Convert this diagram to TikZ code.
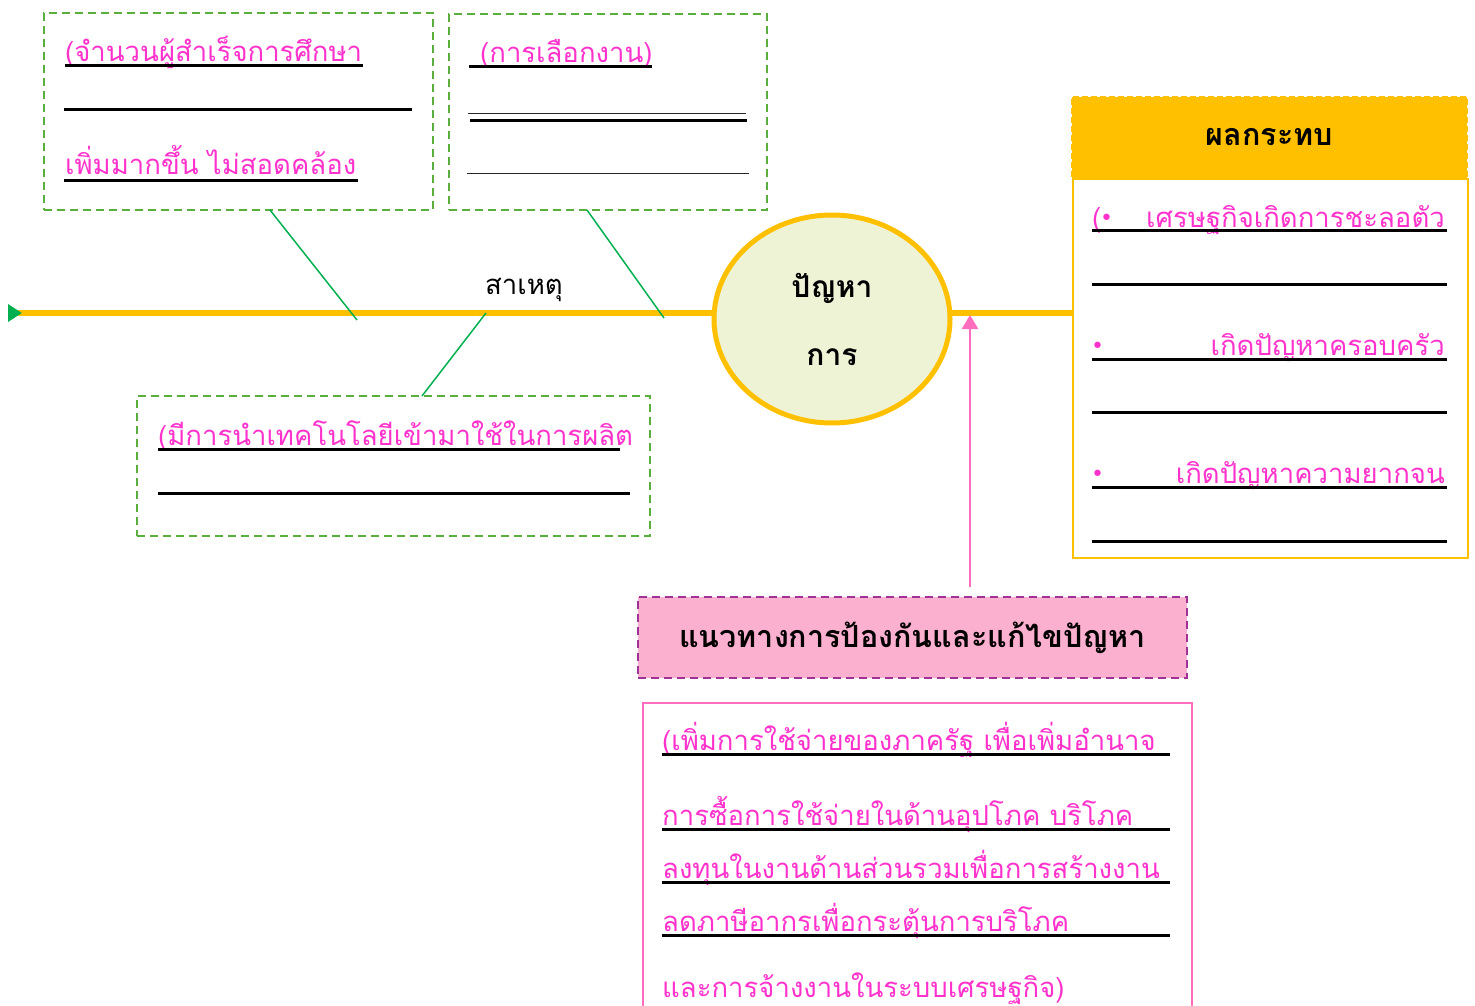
\documentclass[tikz,border=0pt]{standalone}
\usepackage{fontspec}
\newfontfamily\thai[Script=Thai]{Loma}
\newfontfamily\sym{DejaVu Sans}
\usetikzlibrary{arrows.meta,shapes.geometric}
\definecolor{spineorange}{RGB}{255,192,0}
\definecolor{bonegreen}{RGB}{0,176,80}
\definecolor{boxgreen}{RGB}{90,174,60}
\definecolor{txtpink}{RGB}{255,51,204}
\definecolor{headpink}{RGB}{252,176,208}
\definecolor{dashpurple}{RGB}{160,50,150}
\definecolor{arrowpink}{RGB}{255,110,190}
\definecolor{headfill}{RGB}{239,243,214}
\tikzset{
  causebox/.style={draw=boxgreen, line width=2pt, dash pattern=on 8pt off 5pt, minimum width=#1},
  pinktxt/.style={text=txtpink, font=\thai\fontsize{27.5}{32}\selectfont, anchor=base west, inner sep=0pt},
  blacktxt/.style={font=\thai\bfseries\fontsize{30.5}{34}\selectfont, inner sep=0pt},
  bullet/.style={text=txtpink, font=\sym\fontsize{22}{24}\selectfont, anchor=base west, inner sep=0pt},
  uline/.style={line width=3pt, black},
  thinline/.style={line width=1pt, black!85},
  bone/.style={bonegreen, line width=1.5pt},
}
\begin{document}
\begin{tikzpicture}[x=1pt,y=-1pt]
  \useasboundingbox (0,0) rectangle (1475,1006);
  \clip (0,0) rectangle (1475,1006);

  % causes
  \node (cause1) [causebox=389pt, minimum height=197pt] at (238.5,111.5) {};
  \node (cause2) [causebox=318pt, minimum height=196pt] at (608,112) {};
  \node (cause3) [causebox=513pt, minimum height=140pt] at (393.5,466) {};

  \node (c1a) [pinktxt] at (65,62) {(จำนวนผู้สำเร็จการศึกษา};
  \node (c1b) [pinktxt] at (65,175) {เพิ่มมากขึ้น ไม่สอดคล้อง};
  \draw[uline] (65,66) -- (363,66);
  \draw[uline] (64,110) -- (412,110);
  \draw[uline] (64,180) -- (358,180);

  \node (c2a) [pinktxt] at (480,63) {(การเลือกงาน)};
  \draw[uline] (469,67) -- (652,67);
  \draw[thinline] (468,114) -- (746,114);
  \draw[uline] (470,121) -- (747,121);
  \draw[thinline] (467,173) -- (749,173);

  \node (c3a) [pinktxt] at (158,445) {(มีการนำเทคโนโลยีเข้ามาใช้ในการผลิต};
  \draw[uline] (158,449) -- (620,449);
  \draw[uline] (158,493) -- (630,493);

  % impact box
  \node (effecthead) [draw=spineorange, fill=spineorange, line width=2pt, dash pattern=on 6pt off 3pt,
    minimum width=395pt, minimum height=81pt] at (1269.5,137.5) {};
  \node [blacktxt] at (effecthead) {ผลกระทบ};
  \node (effectbody) [draw=spineorange, line width=2pt, minimum width=395pt, minimum height=379pt,
    anchor=north west] at (1072,178) {};

  \node [pinktxt] at (1092,227) {(};
  \node [bullet] at (1100,225) {•};
  \node (e1) [pinktxt, anchor=base east] at (1445,227) {เศรษฐกิจเกิดการชะลอตัว};
  \node [bullet] at (1091,353) {•};
  \node (e2) [pinktxt, anchor=base east] at (1445,355) {เกิดปัญหาครอบครัว};
  \node [bullet] at (1091,481) {•};
  \node (e3) [pinktxt, anchor=base east] at (1445,483) {เกิดปัญหาความยากจน};
  \draw[uline] (1092,230) -- (1447,230);
  \draw[uline] (1092,284) -- (1447,284);
  \draw[uline] (1092,359) -- (1447,359);
  \draw[uline] (1092,412) -- (1447,412);
  \draw[uline] (1092,487) -- (1447,487);
  \draw[uline] (1092,541) -- (1447,541);

  % spine and bones
  \coordinate (tail) at (8,313);
  \draw[spineorange, line width=6pt, {Triangle[reversed, length=14pt, width=17pt, color=bonegreen]}-]
    (tail) -- (tail -| effectbody.west);
  \node (problem) [ellipse, draw=spineorange, fill=headfill, line width=5pt,
    minimum width=236pt, minimum height=208pt, align=center, font=\thai\bfseries\fontsize{30}{34}\selectfont]
    at (832,319) {ปัญหา\\[34pt]การ};

  \coordinate (b1top) at (270,210);
  \coordinate (b1end) at (357,320);
  \coordinate (b2top) at (587,210);
  \coordinate (b2end) at (664,318);
  \coordinate (b3top) at (486,313);
  \coordinate (b3end) at (422,396);
  \draw[bone] (b1top) -- (b1end);
  \draw[bone] (b2top) -- (b2end);
  \draw[bone] (b3top) -- (b3end);
  \node (causelabel) [font=\thai\fontsize{27.5}{32}\selectfont, inner sep=0pt] at (524,290) {สาเหตุ};

  % solutions
  \node (solhead) [draw=dashpurple, fill=headpink, line width=2.5pt, dash pattern=on 8pt off 5pt,
    minimum width=549pt, minimum height=81pt] at (912.5,637.5) {};
  \node [blacktxt] at (solhead) {แนวทางการป้องกันและแก้ไขปัญหา};
  \node (solbody) [draw=arrowpink, line width=2pt, minimum width=549pt, minimum height=330pt,
    anchor=north west] at (642,702) {};

  \node (s1) [pinktxt] at (662,750) {(เพิ่มการใช้จ่ายของภาครัฐ เพื่อเพิ่มอำนาจ};
  \node (s2) [pinktxt] at (662,825) {การซื้อการใช้จ่ายในด้านอุปโภค บริโภค};
  \node (s3) [pinktxt] at (662,878) {ลงทุนในงานด้านส่วนรวมเพื่อการสร้างงาน};
  \node (s4) [pinktxt] at (662,931) {ลดภาษีอากรเพื่อกระตุ้นการบริโภค};
  \node (s5) [pinktxt] at (662,997) {และการจ้างงานในระบบเศรษฐกิจ)};
  \draw[uline] (662,754) -- (1170,754);
  \draw[uline] (662,829) -- (1170,829);
  \draw[uline] (662,882) -- (1170,882);
  \draw[uline] (662,935) -- (1170,935);

  \coordinate (arrowbase) at (970,587);
  \coordinate (arrowtip) at (970,315);
  \draw[arrowpink, line width=2.5pt, -{Triangle[length=14pt, width=16pt]}] (arrowbase) -- (arrowtip);
\end{tikzpicture}
\end{document}
